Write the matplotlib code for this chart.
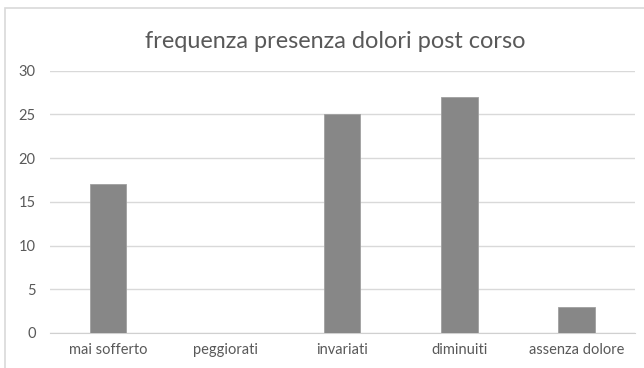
import matplotlib
matplotlib.use("Agg")
import matplotlib.pyplot as plt
from matplotlib.patches import Rectangle

categories = ["mai sofferto", "peggiorati", "invariati", "diminuiti", "assenza dolore"]
values = [17, 0, 25, 27, 3]
yticks = [0, 5, 10, 15, 20, 25, 30]
title = "frequenza presenza dolori post corso"

plt.rcParams["font.family"] = ["Lato", "DejaVu Sans"]
text_color = "#595959"

fig = plt.figure(figsize=(6.44, 3.68), dpi=100)
# chart frame (runs past the right and bottom edges of the canvas)
fig.patches.append(Rectangle((5 / 644, -0.1), 1.2, 1.1 - 8 / 368, transform=fig.transFigure,
                             fill=False, edgecolor="#d9d9d9", linewidth=1.2))

ax = fig.add_axes([49.5 / 644, 1 - 333 / 368, 585.5 / 644, 262.5 / 368])
x = range(len(categories))
ax.bar(x, values, width=0.31, color="#878787", edgecolor="#a0a0a0", linewidth=0.6, zorder=3)

ax.set_xlim(-0.5, len(categories) - 0.5)
ax.set_ylim(0, 30)
ax.set_yticks(yticks)
ax.set_xticks(list(x))
ax.set_xticklabels(categories)
ax.yaxis.grid(True, color="#d9d9d9", linewidth=1.0, zorder=0)
ax.set_axisbelow(True)
for side in ["top", "right", "left"]:
    ax.spines[side].set_visible(False)
ax.spines["bottom"].set_color("#d0d0d0")
ax.tick_params(axis="both", length=0, labelsize=10.5, colors=text_color)
ax.tick_params(axis="x", pad=7)
ax.tick_params(axis="y", pad=10)

fig.text(335 / 644, 1 - 42 / 368, title, ha="center", va="center", fontsize=16.9, color=text_color)

fig.savefig("out.png", dpi=100)
